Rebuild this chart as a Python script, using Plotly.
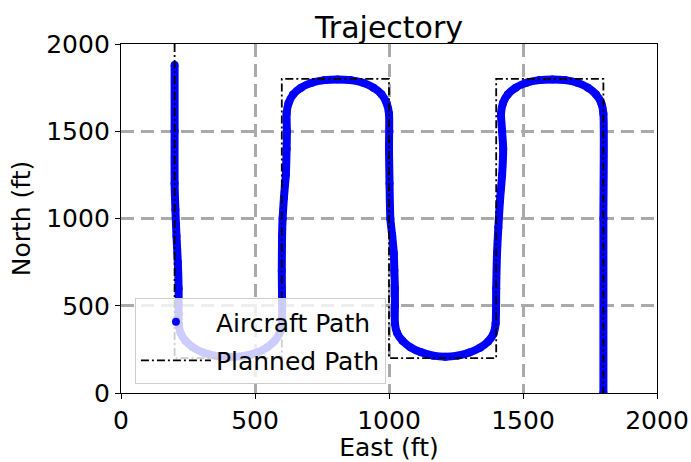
import plotly.graph_objects as go

# Planned path (waypoints)
planned_east = [200, 200, 600, 600, 1000, 1000, 1400, 1400, 1800, 1800]
planned_north = [2000, 200, 200, 1800, 1800, 200, 200, 1800, 1800, 0]

# Aircraft path
aircraft_east = [
    200, 200, 200, 203, 207, 212, 215, 215,
    215, 222, 240, 268, 306, 354, 407, 460, 508, 546, 574, 592, 600,
    600, 601, 603, 608, 615, 618, 619, 618,
    625, 642, 672, 712, 760, 808, 856, 903, 942, 972, 991, 1000,
    1000, 1002, 1005, 1012, 1018, 1020, 1022, 1022, 1022,
    1030, 1050, 1080, 1120, 1165, 1210, 1255, 1300, 1340, 1370, 1390, 1398,
    1400, 1403, 1408, 1414, 1422, 1426, 1422, 1418,
    1425, 1443, 1473, 1513, 1561, 1609, 1657, 1703, 1742, 1772, 1792, 1800,
    1800, 1800,
]
aircraft_north = [
    1880, 1500, 1200, 1050, 900, 750, 600, 450,
    400, 345, 300, 262, 232, 213, 207, 213, 232, 262, 300, 345, 400,
    700, 900, 1000, 1120, 1250, 1400, 1500, 1600,
    1660, 1710, 1750, 1778, 1793, 1797, 1793, 1778, 1750, 1712, 1662, 1600,
    1400, 1200, 1000, 900, 800, 700, 600, 500, 400,
    345, 300, 262, 233, 214, 208, 214, 232, 260, 295, 340, 400,
    600, 800, 950, 1100, 1250, 1400, 1500, 1600,
    1660, 1710, 1750, 1778, 1793, 1797, 1793, 1778, 1750, 1712, 1662, 1600,
    1000, 0,
]

x_ticks = [0, 500, 1000, 1500, 2000]
y_ticks = [0, 500, 1000, 1500, 2000]

FONT = "DejaVu Sans"
BLUE = "#0000ff"

fig = go.Figure()

# thick continuous aircraft path
fig.add_trace(go.Scatter(
    x=aircraft_east, y=aircraft_north, mode="lines",
    line=dict(color=BLUE, width=8, shape="spline", smoothing=0.6),
    showlegend=False, hoverinfo="skip",
))
# markers (carry the legend entry)
fig.add_trace(go.Scatter(
    x=aircraft_east, y=aircraft_north, mode="markers",
    marker=dict(color=BLUE, size=8),
    name="Aircraft Path", legendgroup="a",
))
fig.add_trace(go.Scatter(
    x=planned_east, y=planned_north, mode="lines",
    line=dict(color="black", width=1.8, dash="8px,3px,2px,3px"),
    name="Planned Path", legendgroup="p",
))

axis_common = dict(
    range=[0, 2000],
    tickvals=x_ticks,
    automargin=False,
    showline=True, linecolor="black", linewidth=1.3, mirror=True,
    ticks="outside", ticklen=5, tickwidth=1.3, tickcolor="black",
    showgrid=True, gridcolor="#aaaaaa", gridwidth=3, griddash="13px,7px",
    zeroline=False,
    tickfont=dict(family=FONT, size=25, color="black"),
)

fig.update_layout(
    width=691, height=462,
    margin=dict(l=121, r=34, t=44, b=69),
    paper_bgcolor="white", plot_bgcolor="white",
    font=dict(family=FONT, color="black"),
    title=dict(text="Trajectory", x=0.5, xref="paper", xanchor="center",
               y=1, yref="paper", yanchor="bottom", pad=dict(b=6),
               font=dict(family=FONT, size=30, color="black")),
    xaxis=dict(axis_common, title=dict(text="East (ft)", standoff=4,
                                       font=dict(family=FONT, size=25))),
    yaxis=dict(axis_common, tickvals=y_ticks,
               title=dict(text="North (ft)", standoff=8,
                          font=dict(family=FONT, size=25))),
    legend=dict(x=0.026, y=0.272, xanchor="left", yanchor="top",
                bgcolor="rgba(255,255,255,0.8)", bordercolor="#cccccc",
                borderwidth=1, itemwidth=70, tracegroupgap=3,
                font=dict(family=FONT, size=25, color="black")),
    showlegend=True,
)

fig.write_html("out.html")
